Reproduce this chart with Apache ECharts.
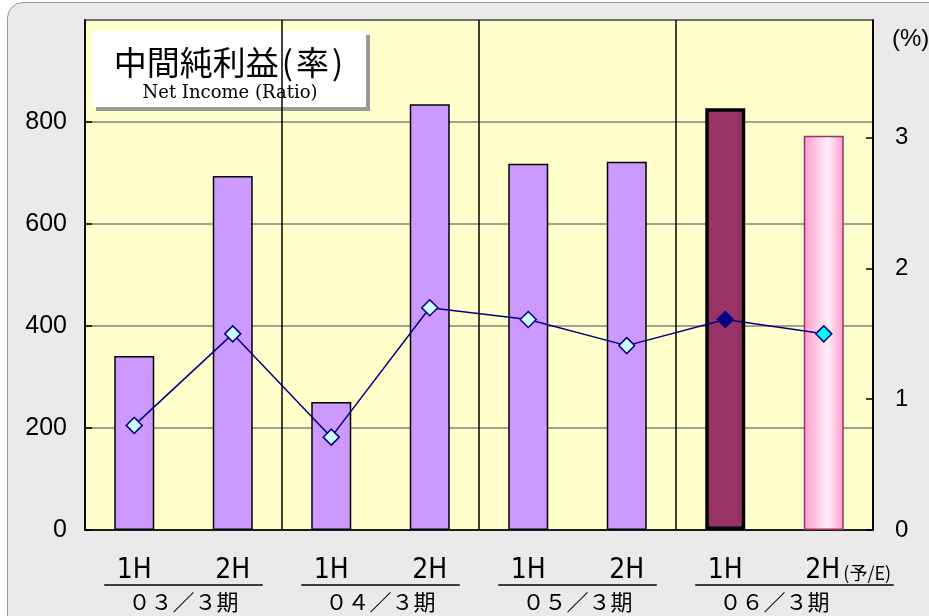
<!DOCTYPE html>
<html>
<head>
<meta charset="utf-8">
<script src="https://cdn.jsdelivr.net/npm/echarts@6/dist/echarts.min.js"></script>
<style>
  html, body { margin: 0; padding: 0; background: #fff; }
  #wrap { position: relative; width: 929px; height: 616px; overflow: hidden; }
  #frame {
    position: absolute; left: 7px; top: 2px; width: 1000px; height: 700px;
    background: #EAEAEA; border: 1.5px solid #999; border-radius: 16px;
  }
  #chart { position: absolute; left: 0; top: 0; width: 929px; height: 616px; }
</style>
</head>
<body>
<div id="wrap">
  <div id="frame"></div>
  <div id="chart"></div>
</div>
<script>
const halves = ['1H', '2H', '1H', '2H', '1H', '2H', '1H', '2H'];
const periods = ['０３／３期', '０４／３期', '０５／３期', '０６／３期'];
const netIncome = [341, 694, 251, 835, 718, 722, 827, 773];
const ratio = [0.80, 1.50, 0.71, 1.70, 1.61, 1.41, 1.61, 1.50];
const leftTicks = [0, 200, 400, 600, 800];

const chartEl = document.getElementById('chart');
const chart = echarts.init(chartEl);

const narrow = '"Liberation Sans Narrow", "DejaVu Sans Condensed", "Liberation Sans", sans-serif';
const cjk = '"Noto Sans CJK JP", sans-serif';

const barData = netIncome.map((v, i) => {
    if (i === 6) {
        return { value: v, itemStyle: { color: '#993366', borderColor: '#000', borderWidth: 3.5 } };
    }
    if (i === 7) {
        return {
            value: v,
            itemStyle: {
                color: new echarts.graphic.LinearGradient(0, 0, 1, 0, [
                    { offset: 0, color: '#FF99CC' },
                    { offset: 0.6, color: '#FFF0F8' },
                    { offset: 1, color: '#FF99CC' }
                ]),
                borderColor: '#993366',
                borderWidth: 1.5
            }
        };
    }
    return v;
});

const lineData = ratio.map((v, i) => {
    if (i === 6) return { value: v, itemStyle: { color: '#000080' } };
    if (i === 7) return { value: v, itemStyle: { color: '#00FFFF' } };
    return v;
});

// title box, (%) label
const decor = [
    { type: 'rect', shape: { x: 96, y: 35, width: 274, height: 76 }, style: { fill: '#999' } },
    { type: 'rect', shape: { x: 92, y: 31, width: 274, height: 76 }, style: { fill: '#fff' } },
    {
        type: 'text', x: 230, y: 62,
        style: {
            text: '{a|中間純利益}{b|(}{a|率}{b|)}',
            align: 'center', verticalAlign: 'middle',
            rich: {
                a: { fontSize: 33, fontFamily: cjk, fill: '#000' },
                b: { fontSize: 33, fontFamily: cjk, fill: '#000', padding: [0, 3] }
            }
        }
    },
    {
        type: 'text', x: 230, y: 93,
        style: {
            text: 'Net Income (Ratio)',
            align: 'center', verticalAlign: 'middle',
            fontSize: 18, fontFamily: '"DejaVu Serif", serif', fill: '#000'
        }
    },
    {
        type: 'text', x: 892, y: 27,
        style: { text: '(%)', fontSize: 24, fontFamily: '"Liberation Sans", sans-serif', fill: '#000' }
    }
];

let option = {
    animation: false,
    grid: {
        left: 85, right: 56, top: 20, bottom: 86,
        show: true,
        backgroundColor: '#FFFFCC',
        borderColor: '#000',
        borderWidth: 1.5
    },
    xAxis: [
        {
            type: 'category',
            data: halves,
            axisLine: { lineStyle: { color: '#000', width: 1.5 } },
            axisTick: { show: false },
            splitLine: {
                show: true,
                interval: (i) => i === 2 || i === 4 || i === 6,
                lineStyle: { color: '#000', width: 1.5 }
            },
            axisLabel: {
                interval: 0,
                margin: 27,
                fontSize: 28,
                fontFamily: narrow,
                color: '#000',
                formatter: (v, i) => i === 7 ? '{p| }{m|2H}{s|(予/E)}' : v,
                rich: {
                    p: { width: 50 },
                    m: { fontSize: 28, fontFamily: narrow, color: '#000' },
                    s: { fontSize: 18, fontFamily: cjk, color: '#000', width: 50, padding: [4, 0, 0, 2] }
                }
            }
        },
        {
            type: 'category',
            data: periods,
            position: 'bottom',
            axisLine: { show: false },
            axisTick: { show: false },
            splitLine: { show: false },
            axisLabel: {
                interval: 0,
                margin: 61,
                fontSize: 22,
                fontFamily: cjk,
                color: '#000'
            }
        }
    ],
    yAxis: [
        {
            type: 'value',
            min: 0,
            max: 1000,
            interval: 200,
            axisLine: { show: true, lineStyle: { color: '#000', width: 1.5 } },
            axisTick: { show: true, inside: true, length: 7, lineStyle: { color: '#000', width: 1.5 } },
            axisLabel: {
                margin: 18,
                fontSize: 25,
                fontFamily: '"Liberation Sans", sans-serif',
                color: '#000',
                showMaxLabel: false,
                formatter: (v) => leftTicks.includes(v) ? String(v) : ''
            },
            splitLine: { show: true, lineStyle: { color: '#808080', width: 1.5 } }
        },
        {
            type: 'value',
            position: 'right',
            min: 0,
            max: 3.9,
            interval: 1,
            axisLine: { show: true, lineStyle: { color: '#000', width: 1.5 } },
            axisTick: { show: true, inside: true, length: 7, lineStyle: { color: '#000', width: 1.5 } },
            axisLabel: {
                margin: 22,
                fontSize: 24,
                fontFamily: '"Liberation Sans", sans-serif',
                color: '#000',
                showMaxLabel: false
            },
            splitLine: { show: false }
        }
    ],
    series: [
        {
            name: 'Net Income',
            type: 'bar',
            xAxisIndex: 0,
            yAxisIndex: 0,
            barWidth: 40,
            itemStyle: { color: '#CC99FF', borderColor: '#000', borderWidth: 1.5 },
            data: barData
        },
        {
            name: 'Ratio',
            type: 'line',
            xAxisIndex: 0,
            yAxisIndex: 1,
            symbol: 'diamond',
            symbolSize: 16,
            lineStyle: { color: '#000080', width: 1.5 },
            itemStyle: { color: '#CCFFFF', borderColor: '#000080', borderWidth: 1.5 },
            data: lineData,
            z: 5
        }
    ],
    graphic: decor
};

chart.setOption(option);

// underline under each pair of half-year labels
const underlines = periods.map((p, g) => {
    const a = chart.convertToPixel({ gridIndex: 0 }, [g * 2, 0]);
    const b = chart.convertToPixel({ gridIndex: 0 }, [g * 2 + 1, 0]);
    const extra = g === periods.length - 1 ? 70 : 30;
    return {
        type: 'line',
        shape: { x1: a[0] - 30, y1: a[1] + 55, x2: b[0] + extra, y2: a[1] + 55 },
        style: { stroke: '#000', lineWidth: 1.5 }
    };
});
chart.setOption({ graphic: decor.concat(underlines) });
</script>
</body>
</html>
